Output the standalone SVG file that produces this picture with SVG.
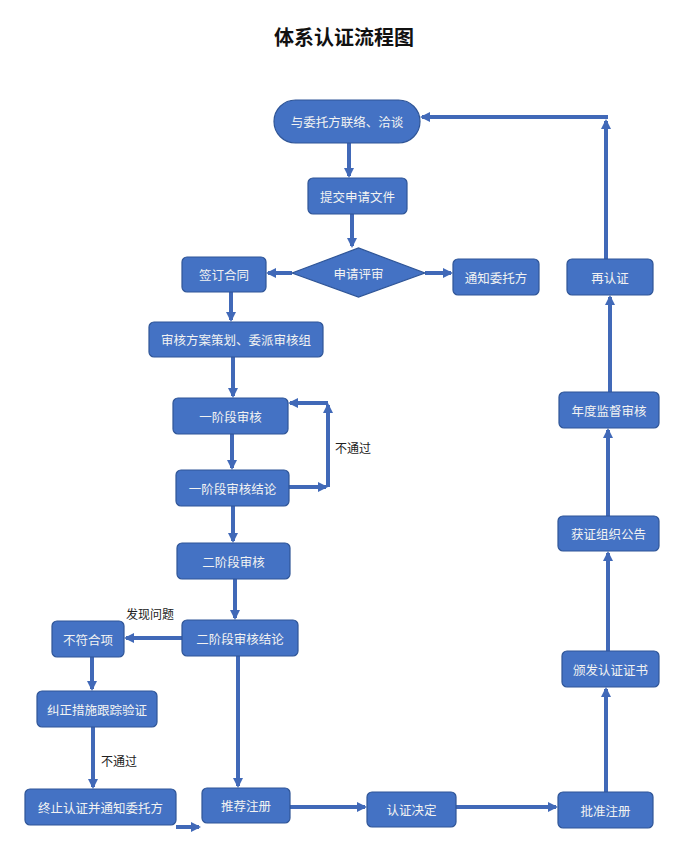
<svg xmlns="http://www.w3.org/2000/svg" width="688" height="863" viewBox="0 0 688 863">
<defs>
<style>
.n{fill:#4472C4;stroke:#2F5597;stroke-width:1.2}
.t{fill:#F2F2F2;font-family:"Noto Sans CJK SC","Noto Sans",sans-serif;font-size:12.5px;text-anchor:middle;dominant-baseline:central}
.lbl{fill:#222;font-family:"Noto Sans CJK SC","Noto Sans",sans-serif;font-size:12px;dominant-baseline:central}
.c{fill:none;stroke:#4169B8;stroke-width:4}
.title{fill:#111;font-family:"Noto Sans CJK SC","Noto Sans",sans-serif;font-size:20px;font-weight:bold;text-anchor:middle;dominant-baseline:central}
</style>
<marker id="ah" viewBox="0 0 10 10" refX="8" refY="5" markerWidth="2.5" markerHeight="2.5" orient="auto" markerUnits="strokeWidth">
<path d="M0,0 L10,5 L0,10 z" fill="#4169B8"/>
</marker>
</defs>
<rect width="688" height="863" fill="#fff"/>
<text class="title" x="344" y="36">体系认证流程图</text>

<g id="connectors">
<line class="c" x1="349" y1="143" x2="349" y2="176" marker-end="url(#ah)"/>
<line class="c" x1="352" y1="214" x2="352" y2="246" marker-end="url(#ah)"/>
<line class="c" x1="292" y1="273" x2="268" y2="273" marker-end="url(#ah)"/>
<line class="c" x1="425" y1="273" x2="451" y2="273" marker-end="url(#ah)"/>
<line class="c" x1="231" y1="292" x2="231" y2="320" marker-end="url(#ah)"/>
<line class="c" x1="233" y1="357" x2="233" y2="396" marker-end="url(#ah)"/>
<line class="c" x1="232" y1="434" x2="232" y2="468" marker-end="url(#ah)"/>
<line class="c" x1="233" y1="506" x2="233" y2="541" marker-end="url(#ah)"/>
<line class="c" x1="235" y1="579" x2="235" y2="618" marker-end="url(#ah)"/>
<polyline class="c" points="289,487 326,487" marker-end="url(#ah)"/>
<polyline class="c" points="328,487 328,405" marker-end="url(#ah)"/>
<polyline class="c" points="328,403 290,403" marker-end="url(#ah)"/>
<line class="c" x1="182" y1="638" x2="126" y2="638" marker-end="url(#ah)"/>
<line class="c" x1="92" y1="657" x2="92" y2="689" marker-end="url(#ah)"/>
<line class="c" x1="93" y1="727" x2="93" y2="787" marker-end="url(#ah)"/>
<line class="c" x1="238" y1="656" x2="238" y2="786" marker-end="url(#ah)"/>
<line class="c" x1="176" y1="827" x2="199" y2="827" marker-end="url(#ah)"/>
<line class="c" x1="290" y1="807" x2="365" y2="807" marker-end="url(#ah)"/>
<line class="c" x1="456" y1="807" x2="556" y2="807" marker-end="url(#ah)"/>
<line class="c" x1="606" y1="792" x2="606" y2="689" marker-end="url(#ah)"/>
<line class="c" x1="608" y1="651" x2="608" y2="553" marker-end="url(#ah)"/>
<line class="c" x1="608" y1="516" x2="608" y2="430" marker-end="url(#ah)"/>
<line class="c" x1="610" y1="392" x2="610" y2="297" marker-end="url(#ah)"/>
<line class="c" x1="606" y1="259" x2="606" y2="121" marker-end="url(#ah)"/>
<polyline class="c" points="608,117 422,117" marker-end="url(#ah)"/>
</g>

<g id="n1"><rect class="n" x="274" y="100" width="146" height="43" rx="21.5"/><text class="t" x="347" y="121.5">与委托方联络、洽谈</text></g>
<g id="n2"><rect class="n" x="308" y="178" width="99" height="36" rx="5"/><text class="t" x="357.5" y="196">提交申请文件</text></g>
<g id="n3"><polygon class="n" points="292,273 358.5,248 425,273 358.5,297"/><text class="t" x="358.5" y="273">申请评审</text></g>
<g id="n4"><rect class="n" x="182" y="257" width="84" height="35" rx="5"/><text class="t" x="224" y="274.5">签订合同</text></g>
<g id="n5"><rect class="n" x="453" y="259" width="86" height="36" rx="5"/><text class="t" x="496" y="277">通知委托方</text></g>
<g id="n6"><rect class="n" x="149" y="322" width="174" height="35" rx="5"/><text class="t" x="236" y="339.5">审核方案策划、委派审核组</text></g>
<g id="n7"><rect class="n" x="173" y="398" width="115" height="36" rx="5"/><text class="t" x="230.5" y="416">一阶段审核</text></g>
<g id="n8"><rect class="n" x="176" y="470" width="113" height="36" rx="5"/><text class="t" x="232.5" y="488">一阶段审核结论</text></g>
<text class="lbl" x="335" y="447">不通过</text>
<g id="n9"><rect class="n" x="177" y="543" width="113" height="36" rx="5"/><text class="t" x="233.5" y="561">二阶段审核</text></g>
<g id="n10"><rect class="n" x="182" y="620" width="116" height="36" rx="5"/><text class="t" x="240" y="638">二阶段审核结论</text></g>
<text class="lbl" x="126" y="613">发现问题</text>
<g id="n11"><rect class="n" x="52" y="621" width="72" height="36" rx="5"/><text class="t" x="88" y="639">不符合项</text></g>
<g id="n12"><rect class="n" x="37" y="691" width="120" height="36" rx="5"/><text class="t" x="97" y="709">纠正措施跟踪验证</text></g>
<text class="lbl" x="101" y="760">不通过</text>
<g id="n13"><rect class="n" x="25" y="789" width="151" height="36" rx="5"/><text class="t" x="100.5" y="807">终止认证并通知委托方</text></g>
<g id="n14"><rect class="n" x="202" y="788" width="88" height="35" rx="5"/><text class="t" x="246" y="805.5">推荐注册</text></g>
<g id="n15"><rect class="n" x="367" y="792" width="89" height="35" rx="5"/><text class="t" x="411.5" y="809.5">认证决定</text></g>
<g id="n16"><rect class="n" x="558" y="792" width="95" height="36" rx="5"/><text class="t" x="605.5" y="810">批准注册</text></g>
<g id="n17"><rect class="n" x="562" y="651" width="97" height="36" rx="5"/><text class="t" x="610.5" y="669">颁发认证证书</text></g>
<g id="n18"><rect class="n" x="558" y="516" width="101" height="35" rx="5"/><text class="t" x="608.5" y="533.5">获证组织公告</text></g>
<g id="n19"><rect class="n" x="559" y="392" width="100" height="36" rx="5"/><text class="t" x="609" y="410">年度监督审核</text></g>
<g id="n20"><rect class="n" x="567" y="259" width="86" height="36" rx="5"/><text class="t" x="610" y="277">再认证</text></g>
</svg>
